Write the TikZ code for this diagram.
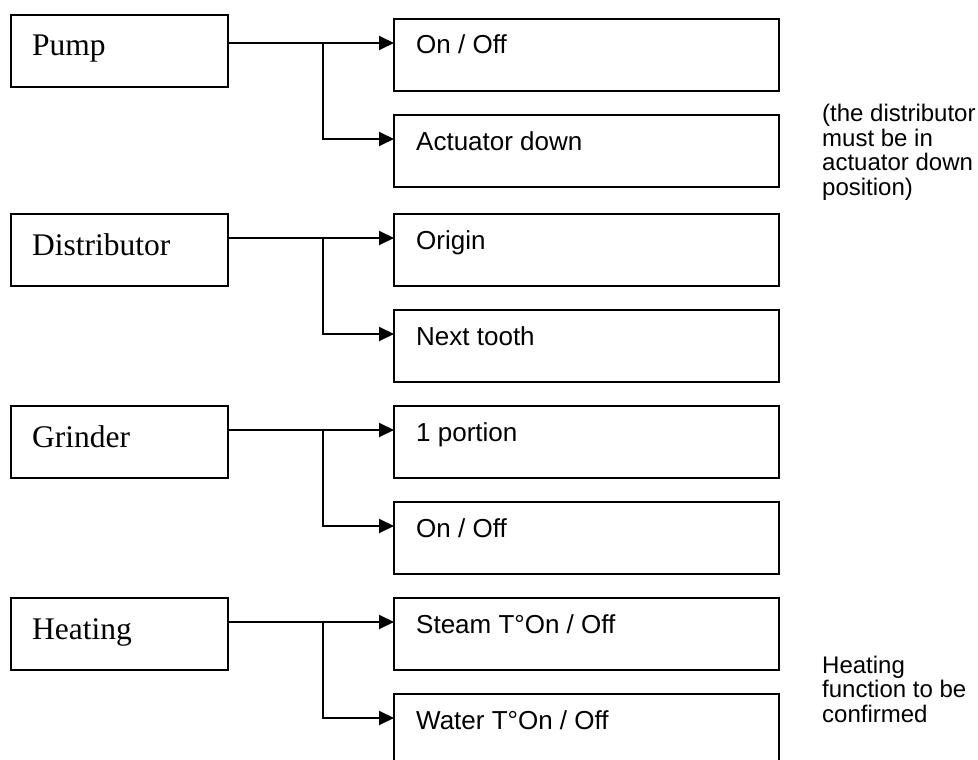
\documentclass[tikz,border=0pt]{standalone}
\usepackage{fontspec}
\setmainfont{Liberation Serif}
\newfontfamily\sansfont{Liberation Sans}
\usetikzlibrary{arrows.meta}

\begin{document}
\begin{tikzpicture}[x=1pt,y=-1pt,
  unit/.style={draw, line width=1.9pt, minimum width=217pt, minimum height=72pt,
    anchor=north west, inner sep=0pt, outer sep=0pt},
  action/.style={draw, line width=1.9pt, minimum width=385pt, minimum height=72pt,
    anchor=north west, inner sep=0pt, outer sep=0pt},
  unitlabel/.style={anchor=base west, inner sep=0pt, font=\fontsize{31.5}{36}\selectfont},
  actionlabel/.style={anchor=base west, inner sep=0pt, font=\sansfont\fontsize{26}{30}\selectfont},
  note/.style={anchor=base west, inner sep=0pt, align=left, font=\sansfont\fontsize{24}{24.5}\selectfont},
  link/.style={line width=1.9pt},
  arrowlink/.style={link, -{Triangle[length=15pt,width=14pt]}}
]
\useasboundingbox (0,0) rectangle (978,760);
\clip (0,0) rectangle (978,760);

% ---- unit boxes (left column)
\node[unit] (pump)   at (11,15)  {};
\node[unit] (distr)  at (11,214) {};
\node[unit] (grind)  at (11,406) {};
\node[unit] (heat)   at (11,598) {};

\node[unitlabel] (pumpT)  at ([xshift=21pt,yshift=-41pt]pump.north west)  {Pump};
\node[unitlabel] (distrT) at ([xshift=21pt,yshift=-41pt]distr.north west) {Distributor};
\node[unitlabel] (grindT) at ([xshift=21pt,yshift=-41pt]grind.north west) {Grinder};
\node[unitlabel] (heatT)  at ([xshift=21pt,yshift=-41pt]heat.north west)  {Heating};

% ---- action boxes (right column)
\node[action] (pumpOn)    at (394,19)  {};
\node[action] (pumpAct)   at (394,115) {};
\node[action] (distrOrig) at (394,214) {};
\node[action] (distrNext) at (394,310) {};
\node[action] (grindPort) at (394,406) {};
\node[action] (grindOn)   at (394,502) {};
\node[action] (heatSteam) at (394,598) {};
\node[action] (heatWater) at (394,694) {};

\node[actionlabel] (pumpOnT)    at ([xshift=22pt,yshift=-35pt]pumpOn.north west)    {On / Off};
\node[actionlabel] (pumpActT)   at ([xshift=22pt,yshift=-35pt]pumpAct.north west)   {Actuator down};
\node[actionlabel] (distrOrigT) at ([xshift=22pt,yshift=-35pt]distrOrig.north west) {Origin};
\node[actionlabel] (distrNextT) at ([xshift=22pt,yshift=-35pt]distrNext.north west) {Next tooth};
\node[actionlabel] (grindPortT) at ([xshift=22pt,yshift=-35pt]grindPort.north west) {1 portion};
\node[actionlabel] (grindOnT)   at ([xshift=22pt,yshift=-35pt]grindOn.north west)   {On / Off};
\node[actionlabel] (heatSteamT) at ([xshift=22pt,yshift=-35pt]heatSteam.north west) {Steam T°On / Off};
\node[actionlabel] (heatWaterT) at ([xshift=22pt,yshift=-35pt]heatWater.north west) {Water T°On / Off};

% ---- side notes (anchored on the baseline of their last line)
\node[note] (noteDistr) at (822,195) {(the distributor\\must be in\\actuator down\\position)};
\node[note] (noteHeat)  at (822,722) {Heating\\function to be\\confirmed};

% ---- connectors: unit -> first action, branch -> second action
\foreach \u/\a/\b in {pump/pumpOn/pumpAct, distr/distrOrig/distrNext,
                      grind/grindPort/grindOn, heat/heatSteam/heatWater} {
  \coordinate (\u-in1) at ([yshift=-24pt]\a.north west);
  \coordinate (\u-in2) at ([yshift=-24pt]\b.north west);
  \coordinate (\u-fork) at ([xshift=95pt]\u.east |- \u-in1);
  \draw[arrowlink] (\u.east |- \u-in1) -- (\u-in1);
  \draw[arrowlink] (\u-fork) |- (\u-in2);
}
\end{tikzpicture}
\end{document}
